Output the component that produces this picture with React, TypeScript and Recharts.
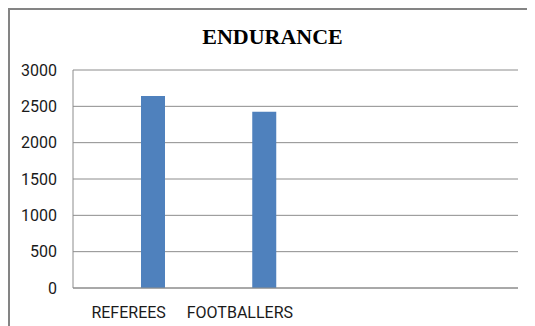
import { BarChart, Bar, XAxis, YAxis, CartesianGrid } from "recharts";

const categories = ["REFEREES", "FOOTBALLERS", "", ""];
const seriesOne: (number | null)[] = [null, null, null, null];
const seriesTwo: (number | null)[] = [null, null, null, null];
const endurance: (number | null)[] = [2642, 2426, null, null];
const yTicks = [0, 500, 1000, 1500, 2000, 2500, 3000];

const chartData = categories.map((name, i) => ({
  name,
  s1: seriesOne[i],
  s2: seriesTwo[i],
  endurance: endurance[i],
}));

const tickFont = { fontFamily: "Roboto, sans-serif", fontSize: 16, fill: "#1a1a1a" };

export default function App() {
  return (
    <div
      style={{
        position: "relative",
        width: 525,
        height: 316,
        borderTop: "2px solid #848484",
        borderLeft: "2px solid #848484",
        background: "#fff",
      }}
    >
      <div
        style={{
          position: "absolute",
          left: 0,
          top: 16,
          width: 525,
          textAlign: "center",
          fontFamily: "'Liberation Serif', 'Times New Roman', serif",
          fontWeight: "bold",
          fontSize: 22,
          lineHeight: "22px",
          color: "#000",
        }}
      >
        ENDURANCE
      </div>
      <BarChart
        width={525}
        height={316}
        data={chartData}
        margin={{ top: 60, right: 17, left: 0, bottom: 0 }}
        barGap={0}
        barSize={24}
      >
        <CartesianGrid vertical={false} stroke="#8c8c8c" />
        <XAxis
          dataKey="name"
          interval={0}
          height={38}
          tickLine={false}
          tickSize={6}
          tickMargin={13}
          stroke="#8c8c8c"
          tick={tickFont}
        />
        <YAxis
          width={63}
          domain={[0, 3000]}
          ticks={yTicks}
          tickLine={false}
          tickSize={6}
          tickMargin={10}
          stroke="#8c8c8c"
          tick={tickFont}
        />
        <Bar dataKey="s1" fill="#c0504d" isAnimationActive={false} />
        <Bar dataKey="s2" fill="#9bbb59" isAnimationActive={false} />
        <Bar dataKey="endurance" fill="#4f81bd" isAnimationActive={false} />
      </BarChart>
    </div>
  );
}
